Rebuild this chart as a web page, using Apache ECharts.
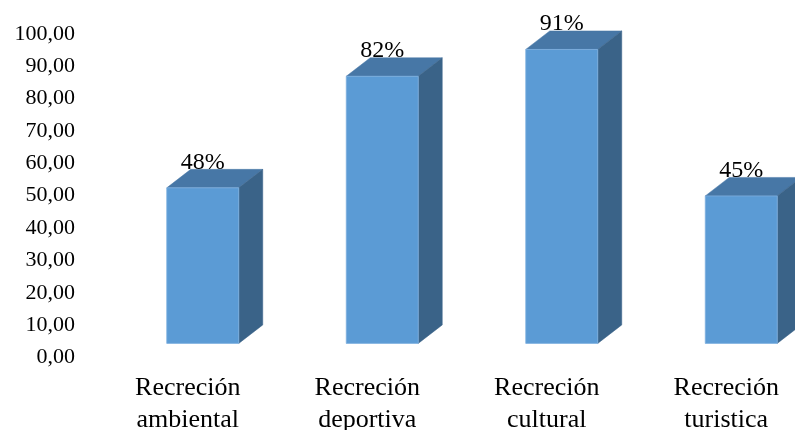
<!DOCTYPE html>
<html>
<head>
<meta charset="utf-8">
<script src="https://cdn.jsdelivr.net/npm/echarts@6/dist/echarts.min.js"></script>
<style>
html,body{margin:0;padding:0;background:#fff;}
#c{width:795px;height:430px;}
</style>
</head>
<body>
<div id="c"></div>
<script>
var categories = ['Recreción\nambiental', 'Recreción\ndeportiva', 'Recreción\ncultural', 'Recreción\nturistica'];
var values = [48.1, 82.6, 90.9, 45.6];
var valueLabels = ['48%', '82%', '91%', '45%'];
var yTicks = { min: 0, max: 100, interval: 10 };

var FONT = '"Liberation Serif", "Times New Roman", serif';
var chart = echarts.init(document.getElementById('c'), null, { renderer: 'canvas' });

function renderBar(params, api) {
  var i = api.value(0);
  var v = api.value(1);
  var top = api.coord([i, v]);
  var base = api.coord([i, 0]);
  var shiftX = 15, shiftY = -14;
  var w = 72, dx = 24, dy = 18.5;
  var cx = top[0] + shiftX;
  var x0 = cx - w / 2, x1 = cx + w / 2;
  var yT = top[1] + shiftY, yB = base[1] + shiftY;
  return {
    type: 'group',
    children: [
      { type: 'polygon', shape: { points: [[x0, yT], [x1, yT], [x1 + dx, yT - dy], [x0 + dx, yT - dy]] },
        style: { fill: '#4777a6', stroke: '#4777a6', lineWidth: 0.5 } },
      { type: 'polygon', shape: { points: [[x1, yT], [x1 + dx, yT - dy], [x1 + dx, yB - dy], [x1, yB]] },
        style: { fill: '#3a6388', stroke: '#3a6388', lineWidth: 0.5 } },
      { type: 'rect', shape: { x: x0, y: yT, width: w, height: yB - yT },
        style: { fill: '#5b9bd5', stroke: '#7fb0e0', lineWidth: 0.8 } },
      { type: 'text', style: { text: valueLabels[params.dataIndex], x: cx, y: yT - dy + 5,
        align: 'center', verticalAlign: 'bottom', font: '24px ' + FONT, fill: '#000' } }
    ]
  };
}

chart.setOption({
  animation: false,
  backgroundColor: '#fff',
  grid: { left: 98, top: 34, width: 718, height: 323.4, containLabel: false, outerBoundsMode: 'none' },
  xAxis: {
    type: 'category',
    data: categories,
    axisLine: { show: false },
    axisTick: { show: false },
    axisLabel: { fontFamily: FONT, fontSize: 26, lineHeight: 32, color: '#000', margin: 14.5, interval: 0 }
  },
  yAxis: {
    type: 'value',
    min: yTicks.min, max: yTicks.max, interval: yTicks.interval,
    axisLine: { show: false },
    axisTick: { show: false },
    splitLine: { show: false },
    axisLabel: {
      fontFamily: FONT, fontSize: 22, color: '#000', margin: 23,
      formatter: function (v) { return v.toFixed(2).replace('.', ','); }
    }
  },
  series: [{
    type: 'custom',
    renderItem: renderBar,
    data: values.map(function (v, i) { return [i, v]; }),
    encode: { x: 0, y: 1 }
  }]
});
</script>
</body>
</html>
